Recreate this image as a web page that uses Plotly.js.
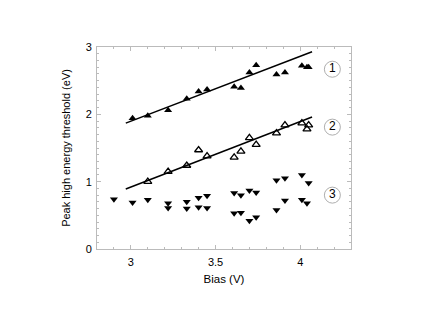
<!DOCTYPE html>
<html>
<head>
<meta charset="utf-8">
<script src="https://cdn.plot.ly/plotly-3.0.1.min.js"></script>
<style>
  html, body { margin: 0; padding: 0; background: #fff; }
  #myDiv { width: 436px; height: 327px; }
</style>
</head>
<body>
<div id="myDiv"></div>
<script>
// Serie 1 (triangulos llenos)
const bias1 = [3.01, 3.10, 3.22, 3.33, 3.40, 3.45, 3.61, 3.65, 3.70, 3.74, 3.86, 3.91, 4.01, 4.04, 4.05];
const thr1 = [1.94, 1.98, 2.06, 2.23, 2.34, 2.37, 2.41, 2.39, 2.62, 2.73, 2.59, 2.62, 2.72, 2.70, 2.70];

// Serie 2 (triangulos vacios)
const bias2 = [3.10, 3.22, 3.33, 3.40, 3.45, 3.61, 3.65, 3.70, 3.74, 3.86, 3.91, 4.01, 4.05, 4.04];
const thr2 = [1.00, 1.15, 1.24, 1.47, 1.38, 1.36, 1.45, 1.65, 1.55, 1.72, 1.84, 1.87, 1.84, 1.78];

// Serie 3 (triangulos invertidos)
const bias3 = [2.90, 3.01, 3.10, 3.22, 3.22, 3.33, 3.33, 3.40, 3.40, 3.45, 3.45,
  3.61, 3.65, 3.61, 3.65, 3.70, 3.74, 3.70, 3.74, 3.86, 3.91, 3.86, 3.91,
  4.01, 4.01, 4.04, 4.05];
const thr3 = [0.74, 0.69, 0.73, 0.68, 0.61, 0.70, 0.60, 0.76, 0.62, 0.79, 0.61,
  0.83, 0.80, 0.53, 0.54, 0.87, 0.84, 0.42, 0.47, 1.02, 1.05, 0.58, 0.72,
  1.10, 0.73, 0.68, 0.98];

// Rectas de ajuste
const fitX = [2.97, 4.07];
const fit1 = [1.87, 2.93];
const fit2 = [0.89, 1.96];

// Etiquetas circuladas
const labelX = [4.19, 4.19, 4.19];
const labelY = [2.67, 1.81, 0.80];
const labelText = ["1", "2", "3"];

const font = { family: "Liberation Sans, Arial, sans-serif", size: 11, color: "#000" };

const data = [
  { type: "scatter", mode: "lines", x: fitX, y: fit1, line: { color: "#000", width: 1.5 }, hoverinfo: "skip" },
  { type: "scatter", mode: "lines", x: fitX, y: fit2, line: { color: "#000", width: 1.5 }, hoverinfo: "skip" },
  {
    type: "scatter", mode: "markers", x: bias1, y: thr1,
    marker: { symbol: "triangle-up", size: 7, color: "#000" },
  },
  {
    type: "scatter", mode: "markers", x: bias2, y: thr2,
    marker: { symbol: "triangle-up-open", size: 7, color: "#000", line: { width: 1.3 } },
  },
  {
    type: "scatter", mode: "markers", x: bias3, y: thr3,
    marker: { symbol: "triangle-down", size: 7, color: "#000" },
  },
  {
    type: "scatter", mode: "markers+text", x: labelX, y: labelY, text: labelText,
    textposition: "middle center", textfont: { family: font.family, size: 12, color: "#000" },
    marker: { symbol: "circle-open", size: 16, color: "#999", line: { width: 0.8 } },
  },
];

const axisBase = {
  showline: true, linecolor: "#bbb", linewidth: 1, mirror: "ticks",
  ticks: "inside", ticklen: 4, tickcolor: "#bbb", tickwidth: 1,
  showgrid: false, zeroline: false, tickfont: font,
};

const layout = {
  width: 436, height: 327,
  margin: { l: 97, r: 85, t: 47, b: 78 },
  paper_bgcolor: "#fff", plot_bgcolor: "#fff",
  showlegend: false,
  font: font,
  xaxis: Object.assign({}, axisBase, {
    range: [2.8, 4.3], tickvals: [3, 3.5, 4], ticktext: ["3", "3.5", "4"],
    ticklabelstandoff: 3,
    minor: { dtick: 0.1, tick0: 3, ticks: "inside", ticklen: 2, tickcolor: "#bbb" },
    title: { text: "Bias (V)", font: { family: font.family, size: 11.5, color: "#000" }, standoff: 7 },
  }),
  yaxis: Object.assign({}, axisBase, {
    range: [0, 3], tickvals: [0, 1, 2, 3],
    ticklabelstandoff: 2,
    minor: { dtick: 0.1, tick0: 0, ticks: "inside", ticklen: 2, tickcolor: "#bbb" },
    title: { text: "Peak high energy threshold (eV)", font: font, standoff: 12 },
  }),
};

Plotly.newPlot("myDiv", data, layout, { staticPlot: true });
</script>
</body>
</html>
